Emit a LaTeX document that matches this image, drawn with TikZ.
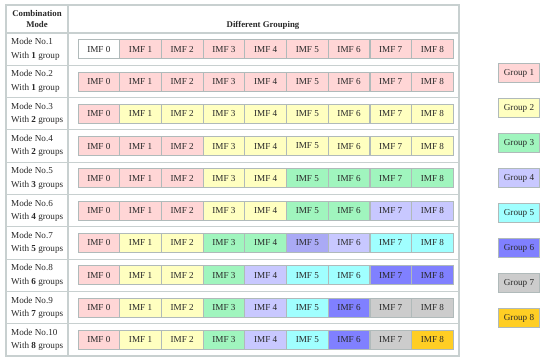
\documentclass[tikz,border=0pt]{standalone}
\usepackage{fontspec}
\setmainfont{Liberation Serif}
\usepackage{tikz}
\usetikzlibrary{positioning}
\definecolor{frame}{RGB}{200,208,208}
\definecolor{boxline}{RGB}{176,186,186}
\definecolor{txt}{RGB}{40,40,40}
\definecolor{grp0}{RGB}{255,255,255}
\definecolor{grp1}{RGB}{255,214,214}
\definecolor{grp2}{RGB}{255,255,192}
\definecolor{grp3}{RGB}{160,245,190}
\definecolor{grp4}{RGB}{200,200,255}
\definecolor{grp9}{RGB}{170,170,245}
\definecolor{grp5}{RGB}{160,255,255}
\definecolor{grp6}{RGB}{128,128,255}
\definecolor{grp7}{RGB}{204,204,204}
\definecolor{grp8}{RGB}{255,206,36}
\tikzset{
  cell/.style={rectangle,draw=boxline,line width=0.7pt,minimum width=1.25cm,minimum height=0.57cm,inner sep=0pt,text=txt,font=\fontsize{7.8}{9}\selectfont},
  legbox/.style={cell,minimum width=1.23cm,minimum height=0.55cm},
  modetxt/.style={anchor=west,align=left,inner sep=0pt,text=txt,font=\fontsize{7.8}{11.5}\selectfont},
  rule/.style={draw=frame,line width=0.9pt}
}

\begin{document}
\begin{tikzpicture}[x=0.03cm,y=-0.03cm]
\useasboundingbox (0,0) rectangle (550,360);
% table frame
\draw[rule] (6,5) rectangle (459,356);
\draw[rule] (68,5) -- (68,356);
\foreach \k in {0,...,9} {
    \draw[rule] (6,{33+32.3*\k}) -- (459,{33+32.3*\k});
}
\node[align=center,text=txt,font=\fontsize{7.5}{10}\selectfont\bfseries] (hmode) at (37,19) {Combination\\Mode};
\node[text=txt,font=\fontsize{7.5}{9}\selectfont\bfseries] (hgroup) at (263,25) {Different Grouping};
% rows of IMF cells
\foreach \r/\n/\w/\grps in {1/1/group/{0,1,1,1,1,1,1,1,1},
                            2/1/group/{1,1,1,1,1,1,1,1,1},
                            3/2/groups/{1,2,2,2,2,2,2,2,2},
                            4/2/groups/{1,1,1,2,2,2,2,2,2},
                            5/3/groups/{1,1,1,2,2,3,3,3,3},
                            6/4/groups/{1,1,1,2,2,3,3,4,4},
                            7/5/groups/{1,2,2,3,3,9,4,5,5},
                            8/6/groups/{1,2,2,3,4,5,5,6,6},
                            9/7/groups/{1,2,2,3,4,5,6,7,7},
                            10/8/groups/{1,2,2,3,4,5,6,7,8}} {
    \node[modetxt] (mode\r) at (11,{33+32.3*(\r-0.5)}) {Mode No.\r\\With \textbf{\n} \w};
    \foreach \g [count=\j from 0] in \grps {
        \node[cell,fill=grp\g] (m\r-\j) at ({78+41.7*(\j+0.5)},{33+32.3*(\r-0.5)}) {IMF \j};
    }
}
% legend
\foreach \i in {1,...,8} {
    \node[legbox,fill=grp\i] (lg\i) at (519,{73+35*(\i-1)}) {Group \i};
}
\end{tikzpicture}
\end{document}
